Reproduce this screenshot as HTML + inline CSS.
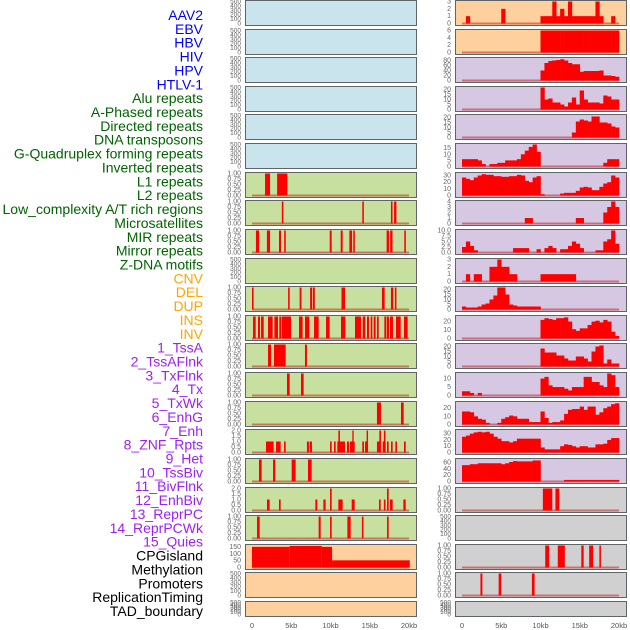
<!DOCTYPE html>
<html><head><meta charset="utf-8"><style>
body{margin:0;background:#fff;}
svg{display:block;font-family:"Liberation Sans","DejaVu Sans",sans-serif;}
</style></head><body>
<svg id="chart" width="630" height="630" viewBox="0 0 630 630"></svg>
<script>
// ---------- data ----------
const labelNames = ["AAV2","EBV","HBV","HIV","HPV","HTLV-1","Alu repeats","A-Phased repeats","Directed repeats","DNA transposons","G-Quadruplex forming repeats","Inverted repeats","L1 repeats","L2 repeats","Low_complexity A/T rich regions","Microsatellites","MIR repeats","Mirror repeats","Z-DNA motifs","CNV","DEL","DUP","INS","INV","1_TssA","2_TssAFlnk","3_TxFlnk","4_Tx","5_TxWk","6_EnhG","7_Enh","8_ZNF_Rpts","9_Het","10_TssBiv","11_BivFlnk","12_EnhBiv","13_ReprPC","14_ReprPCWk","15_Quies","CPGisland","Methylation","Promoters","ReplicationTiming","TAD_boundary"];
const labelColors = ["#0000ff","#0000ff","#0000ff","#0000ff","#0000ff","#0000ff","#006400","#006400","#006400","#006400","#006400","#006400","#006400","#006400","#006400","#006400","#006400","#006400","#006400","#ffa500","#ffa500","#ffa500","#ffa500","#ffa500","#a020f0","#a020f0","#a020f0","#a020f0","#a020f0","#a020f0","#a020f0","#a020f0","#a020f0","#a020f0","#a020f0","#a020f0","#a020f0","#a020f0","#a020f0","#000","#000","#000","#000","#000"];
const xTickValues = [0,5,10,15,20];
const xTickLabels = ["0","5kb","10kb","15kb","20kb"];
const leftBg = ["#c9e4ec","#c9e4ec","#c9e4ec","#c9e4ec","#c9e4ec","#c9e4ec","#c7e09f","#c7e09f","#c7e09f","#c7e09f","#c7e09f","#c7e09f","#c7e09f","#c7e09f","#c7e09f","#c7e09f","#c7e09f","#c7e09f","#c7e09f","#fed09d","#fed09d","#fed09d"];
const rightBg = ["#fed09d","#fed09d","#d6c7e2","#d6c7e2","#d6c7e2","#d6c7e2","#d6c7e2","#d6c7e2","#d6c7e2","#d6c7e2","#d6c7e2","#d6c7e2","#d6c7e2","#d6c7e2","#d6c7e2","#d6c7e2","#d6c7e2","#d0d0d0","#d0d0d0","#d0d0d0","#d0d0d0","#d0d0d0"];
// y max per row
const leftYMax = [500,500,500,500,500,500,1,1,1,500,1,1,1,1,1,2,1,2,1,160,500,500];
const rightYMax = [3,6,88,22,22,18,33,4,10,3,22,26,22,13,27,35,70,1,500,1,1,500];
// left segments [startKb, endKb, value]
const L6 = [[1.66,2.3,1],[3.2,4.5,1]];
const L7 = [[3.8,4.0,1],[14.05,14.25,1],[17.7,17.9,1],[18.1,18.4,1]];
const L8 = [[0.5,0.9,1],[1.9,2.3,1],[3.44,3.7,1],[4.1,4.3,1],[9.9,10.15,1],[11.3,11.55,1],[12.4,12.75,1],[12.9,13.1,1],[17.15,17.45,1],[17.6,17.9,1],[19.4,19.6,1]];
const L10 = [[0,0.2,1],[4.6,4.8,1],[6.07,6.3,1],[7.4,7.65,1],[7.75,8.0,1],[11.4,11.85,1],[16.55,16.9,1],[17.7,18,1],[18.2,18.4,1]];
const L11 = [[0.13,0.47,1],[0.76,1.02,1],[1.15,1.49,1],[2.04,2.63,1],[2.85,3.31,1],[3.48,3.74,1],[3.82,4.97,1],[5.99,6.45,1],[6.75,7.3,1],[7.9,8.49,1],[9.43,9.89,1],[11.34,11.89,1],[13.12,13.89,1],[14.1,14.44,1],[14.65,14.9,1],[15.12,15.33,1],[15.5,15.75,1],[15.92,16.14,1],[16.86,17.07,1],[17.15,17.45,1],[17.58,17.96,1],[18.34,18.94,1],[19.36,19.83,1]];
const L12 = [[2.04,2.42,1],[2.8,4.29,1],[6.75,7.0,1]];
const L13 = [[4.46,4.8,1],[6.24,6.58,1]];
const L14 = [[15.92,16.43,1],[18.98,19.32,1]];
const L15 = [[1.78,2.76,1],[3.06,3.65,1],[4.08,4.29,1],[7.0,7.25,1],[7.35,7.64,1],[9.94,10.15,1],[10.45,10.66,1],[10.87,11.85,1],[12.1,12.36,1],[12.48,13.08,1],[14.05,14.27,1],[14.4,14.78,1],[15.92,16.39,1],[16.65,17.03,1],[17.2,17.41,1],[17.71,17.92,1],[18.26,18.47,1],[19.36,19.58,1],[11.0,11.2,2],[12.78,12.95,2],[14.6,14.78,2],[16.22,16.43,2],[16.8,17.0,2]];
const L16 = [[0.89,1.23,1],[2.68,2.97,1],[5.05,5.56,1],[7.13,7.6,1]];
const L17 = [[1.91,2.25,1],[3.44,3.65,1],[8.07,8.32,1],[9.09,9.38,1],[11.0,11.55,1],[12.7,13.08,1],[16.18,16.39,1],[16.8,17.0,1],[17.58,17.92,1],[19.28,19.58,1],[9.94,10.15,2],[17.2,17.41,2]];
const L18 = [[0.64,0.98,1],[8.49,8.75,1],[9.94,10.15,1],[12.15,12.57,1],[14.0,14.2,1],[17.2,17.41,1]];
const L19 = [[0,4.8,150],[4.8,8.9,157],[8.9,10.2,150],[10.2,20.1,52]];
// right binned profiles (0.5kb bins, 0..20kb)
const R0 = [0,1,0,0,0,0,0,0,0,0,2,0,0,0,0,0,0,0,0,0,1,1,1,3,1,2,1,3,1,1,1,1,1,1,3,1,0,0,1,0];
const R1 = [0,0,0,0,0,0,0,0,0,0,0,0,0,0,0,0,0,0,0,0,6,6,6,6,6,6,6,6,6,6,6,6,6,6,6,6,6,6,6,6];
const R2 = [0,0,0,0,0,0,0,0,0,0,0,0,0,0,0,0,0,0,0,0,40,70,78,80,82,85,80,70,65,65,35,38,38,38,38,40,20,20,18,15];
const R3 = [0,0,0,0,0,0,0,0,0,0,0,0,0,0,0,0,0,0,0,0,22,10,11,7,7,5,3,7,12,5,19,10,7,7,7,6,14,13,10,10];
const R4 = [0,0,0,0,0,0,0,0,0,0,0,0,0,0,0,0,0,0,0,0,0,0,0,0,0,0,0,0,5,16,18,17,16,21,21,15,15,14,11,10];
const R5 = [6,6,6,6,5,2,0,2,2,3,3,5,5,5,6,10,13,16,18,12,0,0,0,0,0,0,0,0,0,0,0,0,0,0,0,0,3,6,6,6];
const R6 = [27,25,23,27,30,32,31,31,29,29,28,28,29,29,31,30,22,20,27,29,2,0,0,0,0,3,4,4,4,7,12,13,12,8,8,13,18,20,30,27];
const R7 = [0,0,0,0,0,0,0,0,0,0,0,0,0,0,0,0,1,1,0,0,0,0,0,0,0,0,0,0,0,1,1,0,0,0,0,0,2,3,4,3];
const R8 = [2.5,5,3,1,0,0,0,0,0,0,0,0,0,2,2,2,2,0,0,1.5,0,2,3,2,0,1.5,1.5,3,5,4,2,0,0,0,1,1,5,6,10,4];
const R9 = [0,1,0,1,1,0,0,2,2,3,2,2,1,1,0,0,0,0,0,0,1,1,1,1,1,1,1,1,1,0,0,0,0,0,0,0,0,0,0,0];
const R10 = [3,2,2,2,3,5,6,10,14,22,22,15,5,4,3,3,3,3,3,3,0,0,0,0,0,0,0,0,0,0,0,0,0,0,0,0,0,0,0,0];
const R11 = [0,0,0,0,0,0,0,0,0,0,0,0,0,0,0,0,0,0,0,0,22,24,23,22,24,24,25,20,11,9,12,12,16,20,21,19,22,20,8,3];
const R12 = [0,0,0,0,0,0,0,0,0,0,0,0,0,0,0,0,0,0,0,0,18,14,14,14,11,11,8,6,6,10,10,8,5,15,20,21,3,7,3,3];
const R13 = [2.5,2.5,1.5,0,1.5,0,0,0,0,0,0,0,0,0,0,0,0,0,0,0,10,11,6,5,5,5,4,3,5,5,5,11,11,8,8,6,5,13,12,5];
const R14 = [16,16,15,10,7,6,2,0,0,2,7,9,11,10,7,7,7,3,3,3,16,8,2,3,3,5,13,18,19,19,22,18,22,22,12,15,20,22,25,26];
const R15 = [25,27,30,32,33,32,33,30,25,22,18,18,16,18,22,22,22,22,22,22,8,5,5,5,5,10,13,12,10,8,10,10,8,8,13,13,14,20,23,23];
const R16 = [52,52,55,55,58,58,58,58,58,58,55,58,62,65,64,64,64,64,67,67,0,0,0,0,0,0,5,5,5,5,5,5,5,5,5,5,5,5,5,5];
const R17 = [[10.3,11.5,1],[11.9,12.4,1]];
const R19 = [[10.6,11.1,1],[12.2,13.1,1],[15.2,15.5,1],[16.2,16.7,1],[17.5,17.7,1]];
const R20 = [[2.35,2.6,1],[4.67,5.0,1],[8.9,9.25,1]];
// ticks per y-scale
const ticks500 = [0,100,200,300,400,500];
const ticks1 = [0,0.25,0.5,0.75,1];
const ticks2 = [0,0.5,1,1.5,2];

// ---------- rendering ----------
const NS = "http://www.w3.org/2000/svg";
const svg = document.getElementById("chart");
function mk(tag, attrs, parent){const e=document.createElementNS(NS,tag);for(const k in attrs)e.setAttribute(k,attrs[k]);(parent||svg).appendChild(e);return e;}
const rowCount = 22;
function rowTop(i){return Math.round(i*28.62);}
function rowH(i){return i===21?15:25;}
const LEFT = {x0:245,x1:416,k0:252,k1:409,tickX:241};
const RIGHT = {x0:455,x1:626,k0:462,k1:619,tickX:451};
function xs(p,kb){return p.k0+(p.k1-p.k0)*kb/20;}
function ys(i,v,ymax){const t=rowTop(i),h=rowH(i);return t+h-1.5-(h-3)*v/ymax;}
function tickSet(ymax){
  if(ymax===500) return ticks500;
  if(ymax===1) return ticks1;
  if(ymax===2) return ticks2;
  if(ymax===160) return [0,50,100,150];
  if(ymax===3) return [0,1,2,3];
  if(ymax===4) return [0,1,2,3,4];
  if(ymax===6) return [0,2,4,6];
  if(ymax===10) return [0,2.5,5,7.5,10];
  if(ymax===88) return [0,20,40,60,80];
  if(ymax===70) return [0,20,40,60];
  if(ymax===33||ymax===35) return [0,10,20,30];
  if(ymax===26||ymax===27) return [0,10,20];
  if(ymax===13) return [0,5,10];
  if(ymax===18) return [0,5,10,15];
  return [0,5,10,15,20];
}
function fmt(ymax,v){
  if(ymax===1) return v.toFixed(2);
  if(ymax===2||ymax===10) return v.toFixed(1);
  return String(v);
}
function drawPanel(p,i,bg,ymax,side){
  const t=rowTop(i),h=rowH(i);
  const r=mk("rect",{x:p.x0+0.5,y:t+0.5,width:p.x1-p.x0,height:h,fill:bg,stroke:"#5e6468","stroke-width":1});
  
  
  const tk=tickSet(ymax);
  tk.forEach(v=>{
    const tx=mk("text",{x:p.tickX,y:ys(i,v,ymax)+2,"font-size":ymax===500?"6.5":"7","text-anchor":"end",fill:"#666"});
    tx.textContent=fmt(ymax,v);
    
    
  });
}
function baseline(p,i,ymax){
  const y=ys(i,0,ymax);
  const l=mk("line",{x1:xs(p,0),x2:xs(p,20),y1:y,y2:y,stroke:"rgba(190,0,0,0.45)","stroke-width":2});
  
  
}
function drawSegs(p,i,segs,ymax){
  baseline(p,i,ymax);
  segs.forEach(s=>{
    const y=ys(i,s[2],ymax),y0=ys(i,0,ymax);
    const b=mk("rect",{x:xs(p,s[0]),y:y,width:Math.max(1.2,xs(p,s[1])-xs(p,s[0])),height:y0-y,fill:"#ff0000"});
    
    
  });
}
function drawBins(p,i,bins,ymax){
  baseline(p,i,ymax);
  bins.forEach((v,j)=>{
    if(v<=0) return;
    const y=ys(i,v,ymax),y0=ys(i,0,ymax);
    const a=xs(p,j*0.5),b=xs(p,(j+1)*0.5);
    const r=mk("rect",{x:a,y:y,width:b-a+0.3,height:y0-y,fill:"#ff0000"});
    
    
  });
}
const leftData = {6:L6,7:L7,8:L8,10:L10,11:L11,12:L12,13:L13,14:L14,15:L15,16:L16,17:L17,18:L18,19:L19};
const rightBins = {0:R0,1:R1,2:R2,3:R3,4:R4,5:R5,6:R6,7:R7,8:R8,9:R9,10:R10,11:R11,12:R12,13:R13,14:R14,15:R15,16:R16};
const rightSegs = {17:R17,19:R19,20:R20};
for(let i=0;i<rowCount;i++){
  drawPanel(LEFT,i,leftBg[i],leftYMax[i],'left');
  if(leftData[i]) drawSegs(LEFT,i,leftData[i],leftYMax[i]);
  drawPanel(RIGHT,i,rightBg[i],rightYMax[i],'right');
  if(rightBins[i]) drawBins(RIGHT,i,rightBins[i],rightYMax[i]);
  if(rightSegs[i]) drawSegs(RIGHT,i,rightSegs[i],rightYMax[i]);
}
// x axis ticks
[LEFT,RIGHT].forEach((p,pi)=>{
  xTickValues.forEach((v,k)=>{
    const t=mk("text",{x:xs(p,v),y:628,"font-size":"7.5","text-anchor":"middle",fill:"#555"});
    t.textContent=xTickLabels[k];
    
    
  });
});
// track labels
labelNames.forEach((n,k)=>{
  const t=mk("text",{x:203,y:20+k*13.86,"font-size":"14","text-anchor":"end",fill:labelColors[k]});
  t.textContent=n;
  
  
});
</script>
</body></html>
